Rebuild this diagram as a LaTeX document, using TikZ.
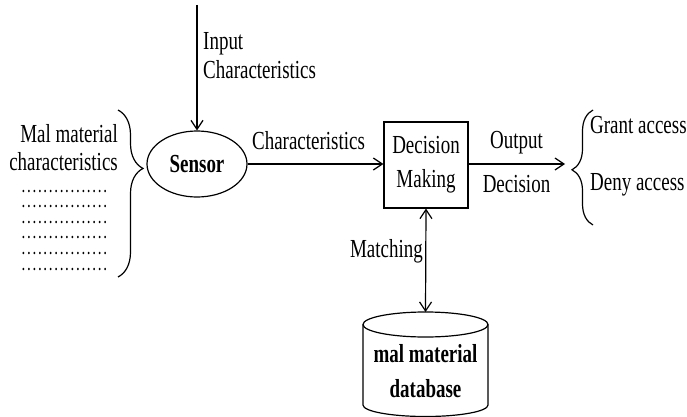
\documentclass[tikz,border=0pt]{standalone}
\usepackage{fontspec}
\setmainfont{Liberation Serif}[FakeStretch=0.73]
\usetikzlibrary{arrows.meta,shapes.geometric,decorations.pathreplacing}

\tikzset{
  every node/.style={inner sep=0pt, font=\fontsize{26}{29}\selectfont},
  >={Straight Barb[length=9pt,width=12pt,line width=1.2pt]},
  conn/.style={line width=1.2pt, ->},
  biconn/.style={line width=1.2pt, <->},
  blk/.style={draw, line width=1.2pt},
  bracket/.style={line width=1.2pt, decorate},
  leaders/.style={anchor=base west, align=left,
    font=\fontsize{15}{15.6}\selectfont\bfseries\addfontfeature{LetterSpace=18}}
}

\begin{document}
\begin{tikzpicture}[x=1pt, y=-1pt]
\useasboundingbox (0,0) rectangle (687,417);

% main blocks
\node[blk, ellipse, minimum width=100pt, minimum height=66pt, font=\fontsize{26}{29}\selectfont\bfseries] (sensor) at (197,164) {Sensor};
\node[blk, rectangle, minimum width=84pt, minimum height=86pt, align=center, font=\fontsize{26}{34}\selectfont] (dm) at (426,165) {Decision\\Making};

% database cylinder
\draw[line width=1.2pt] (425.5,324.5) ellipse [x radius=62.5, y radius=12.5];
\draw[line width=1.2pt] (363,324.5) -- (363,405) arc [start angle=180, end angle=0, x radius=62.5, y radius=11.5] -- (488,324.5);
\coordinate (dbtop) at (425.5,312);
\node[anchor=base, align=center, font=\fontsize{26}{35}\selectfont\bfseries] (dbtext) at (425.5,397) {mal material\\database};

% connectors
\coordinate (src) at (197,5);
\coordinate (outend) at (565,164);
\draw[conn] (src) -- (sensor.north);
\draw[conn] (sensor.east) -- (dm.west |- sensor.east);
\draw[conn] (dm.east |- outend) -- (outend);
\draw[biconn] (dm.south) -- (dbtop);

% labels
\node[anchor=base west, align=left, font=\fontsize{26}{29}\selectfont] (inlbl) at (203,79) {Input\\Characteristics};
\node[anchor=base] (chlbl) at (308.5,149) {Characteristics};
\node[anchor=base] (outlbl) at (516.5,148) {Output};
\node[anchor=base] (declbl) at (516.5,192) {Decision};
\node[anchor=base east] (matchlbl) at (423,257) {Matching};

% left list with brace
\node[anchor=base east] (mal1) at (118,142) {Mal material};
\node[anchor=base east] (mal2) at (118,170) {characteristics};
\node[leaders] (dots) at (22,270)
  {................\\................\\................\\................\\................\\................};
\coordinate (lbtop) at (118,110);
\coordinate (lbbot) at (118,277);
\draw[bracket, decoration={brace, amplitude=25pt, aspect=0.35}] (lbtop) -- (lbbot);

% right outcomes with brace
\coordinate (rbtop) at (593,110);
\coordinate (rbbot) at (593,225);
\draw[bracket, decoration={brace, amplitude=21pt, aspect=0.48}] (rbbot) -- (rbtop);
\node[anchor=base west] (grant) at (590,133) {Grant access};
\node[anchor=base west] (deny) at (590,190) {Deny access};
\end{tikzpicture}
\end{document}
